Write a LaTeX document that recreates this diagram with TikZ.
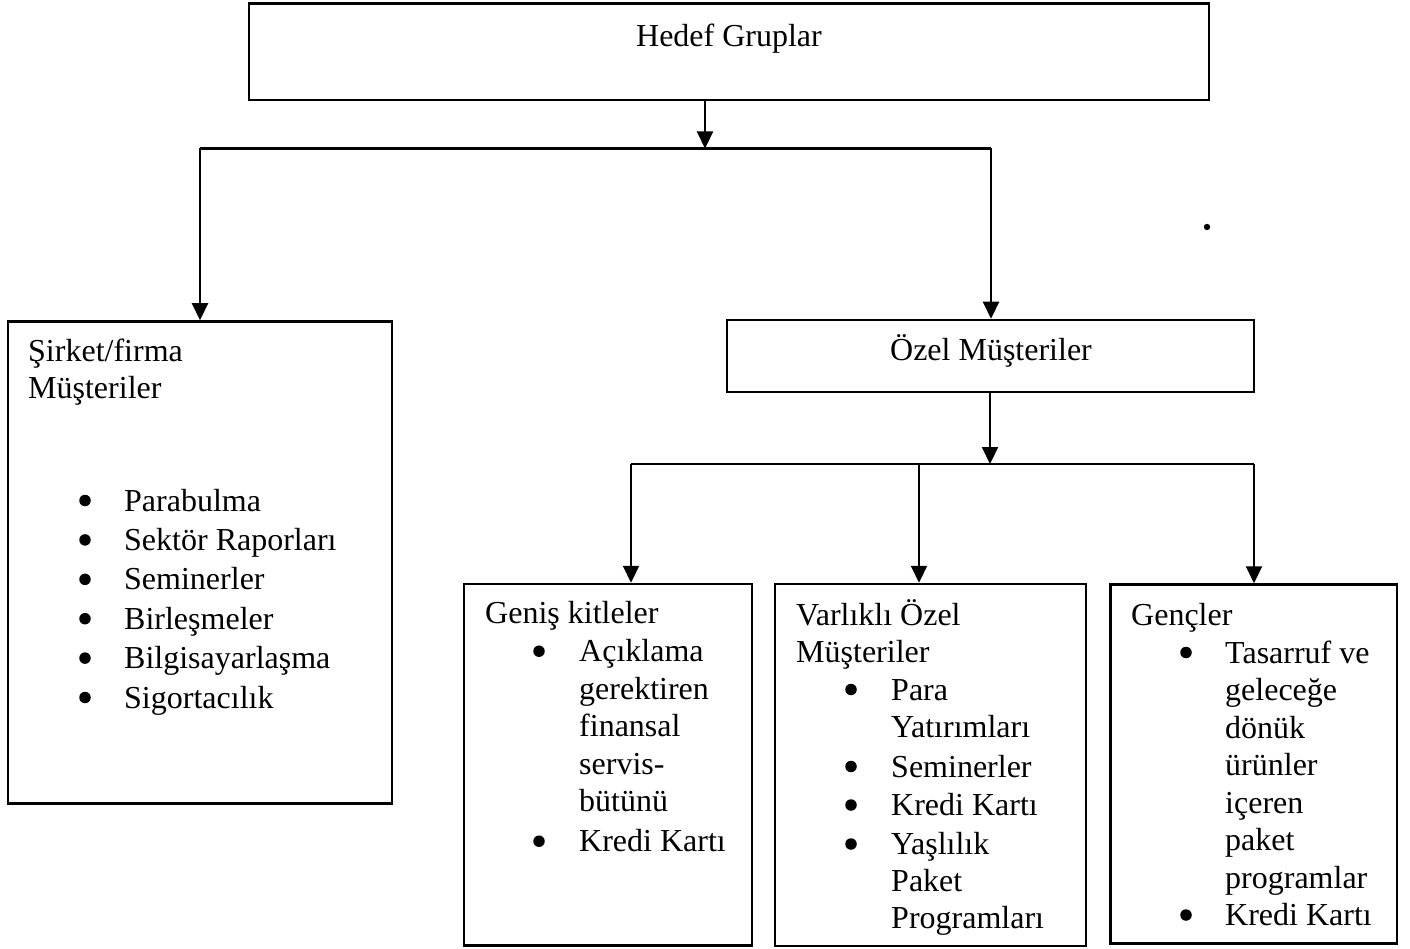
\documentclass[tikz,border=0pt]{standalone}
\usepackage{fontspec}
\setmainfont{Liberation Serif}
\usetikzlibrary{arrows.meta}
\begin{document}
\begin{tikzpicture}[x=1pt,y=-1pt,
  box/.style={draw, line width=2.5pt, inner sep=0pt},
  link/.style={line width=2.2pt},
  arr/.style={line width=2.2pt, -{Triangle[length=17pt,width=16pt]}},
  txt/.style={inner sep=0pt, anchor=base west, font=\fontsize{32}{38}\selectfont},
  ctxt/.style={inner sep=0pt, anchor=base, font=\fontsize{32}{38}\selectfont},
  bul/.style={circle, fill, inner sep=0pt, minimum size=11.5pt, yshift=10.5pt}]
\useasboundingbox (0,0) rectangle (1410,949);

% boxes
\node[box, minimum width=960pt, minimum height=96.5pt] (hedef) at (729,51.75) {};
\node[box, minimum width=384pt, minimum height=482pt] (sirket) at (200,562.5) {};
\node[box, minimum width=527pt, minimum height=72pt] (ozel) at (990.5,356) {};
\node[box, minimum width=288pt, minimum height=361.5pt] (genis) at (608,764.75) {};
\node[box, minimum width=311pt, minimum height=362pt] (varlikli) at (930.5,765) {};
\node[box, minimum width=286.5pt, minimum height=359pt] (gencler) at (1253.75,764) {};

% junction points
\coordinate (j1) at (705,148.5);
\coordinate (jl) at (200,148.5);
\coordinate (jr) at (991,148.5);
\coordinate (j2) at (990,464);
\coordinate (k1) at (631,464);
\coordinate (k2) at (919,464);
\coordinate (k3) at (1254,464);

% connectors
\draw[arr] (hedef.south -| j1) -- (j1);
\draw[link] (jl) -- (jr);
\draw[arr] (jl) -- (jl |- sirket.north);
\draw[arr] (jr) -- (jr |- ozel.north);
\draw[arr] (ozel.south -| j2) -- (j2);
\draw[link] (k1) -- (k3);
\draw[arr] (k1) -- (k1 |- genis.north);
\draw[arr] (k2) -- (k2 |- varlikli.north);
\draw[arr] (k3) -- (k3 |- gencler.north);

% headings
\node[ctxt] (hedefT) at (729,47) {Hedef Gruplar};
\node[ctxt] (ozelT) at (991,360) {Özel Müşteriler};

% Şirket/firma box
\node[txt] (sirketT1) at (28,361) {Şirket/firma};
\node[txt] (sirketT2) at (28,398) {Müşteriler};
\foreach \t/\y [count=\i] in {Parabulma/511, Sektör Raporları/550.4, Seminerler/589.8,
    Birleşmeler/629.2, Bilgisayarlaşma/668.6, Sigortacılık/708} {
  \node[bul] (sb\i) at (85,\y) {};
  \node[txt] (st\i) at (124,\y) {\t};
}

% Geniş kitleler box
\node[txt] (genisT) at (485,623) {Geniş kitleler};
\node[bul] (gb1) at (539,661.7) {};
\foreach \t/\y [count=\i] in {Açıklama/661.7, gerektiren/699.2, finansal/736.7,
    servis-/774.2, bütünü/811.7, Kredi Kartı/851.7}
  \node[txt] (gt\i) at (579,\y) {\t};
\node[bul] (gb2) at (539,851.7) {};

% Varlıklı Özel Müşteriler box
\node[txt] (varT1) at (796,625) {Varlıklı Özel};
\node[txt] (varT2) at (796,662) {Müşteriler};
\foreach \y [count=\i] in {700, 777, 815.5, 854.5}
  \node[bul] (vb\i) at (851,\y) {};
\foreach \t/\y [count=\i] in {Para/700, Yatırımları/737.5, Seminerler/777,
    Kredi Kartı/815.5, Yaşlılık/854.5, Paket/891.5, Programları/928.5}
  \node[txt] (vt\i) at (891,\y) {\t};

% Gençler box
\node[txt] (gencT) at (1131,625) {Gençler};
\foreach \y [count=\i] in {663, 925.5}
  \node[bul] (cb\i) at (1186,\y) {};
\foreach \t/\y [count=\i] in {Tasarruf ve/663, geleceğe/700.5, dönük/738,
    ürünler/775.5, içeren/813, paket/850.5, programlar/888, Kredi Kartı/925.5}
  \node[txt] (ct\i) at (1225,\y) {\t};

% small mark to the right of the upper connector
\fill (1207,227) circle[radius=3.2pt];
\end{tikzpicture}
\end{document}
